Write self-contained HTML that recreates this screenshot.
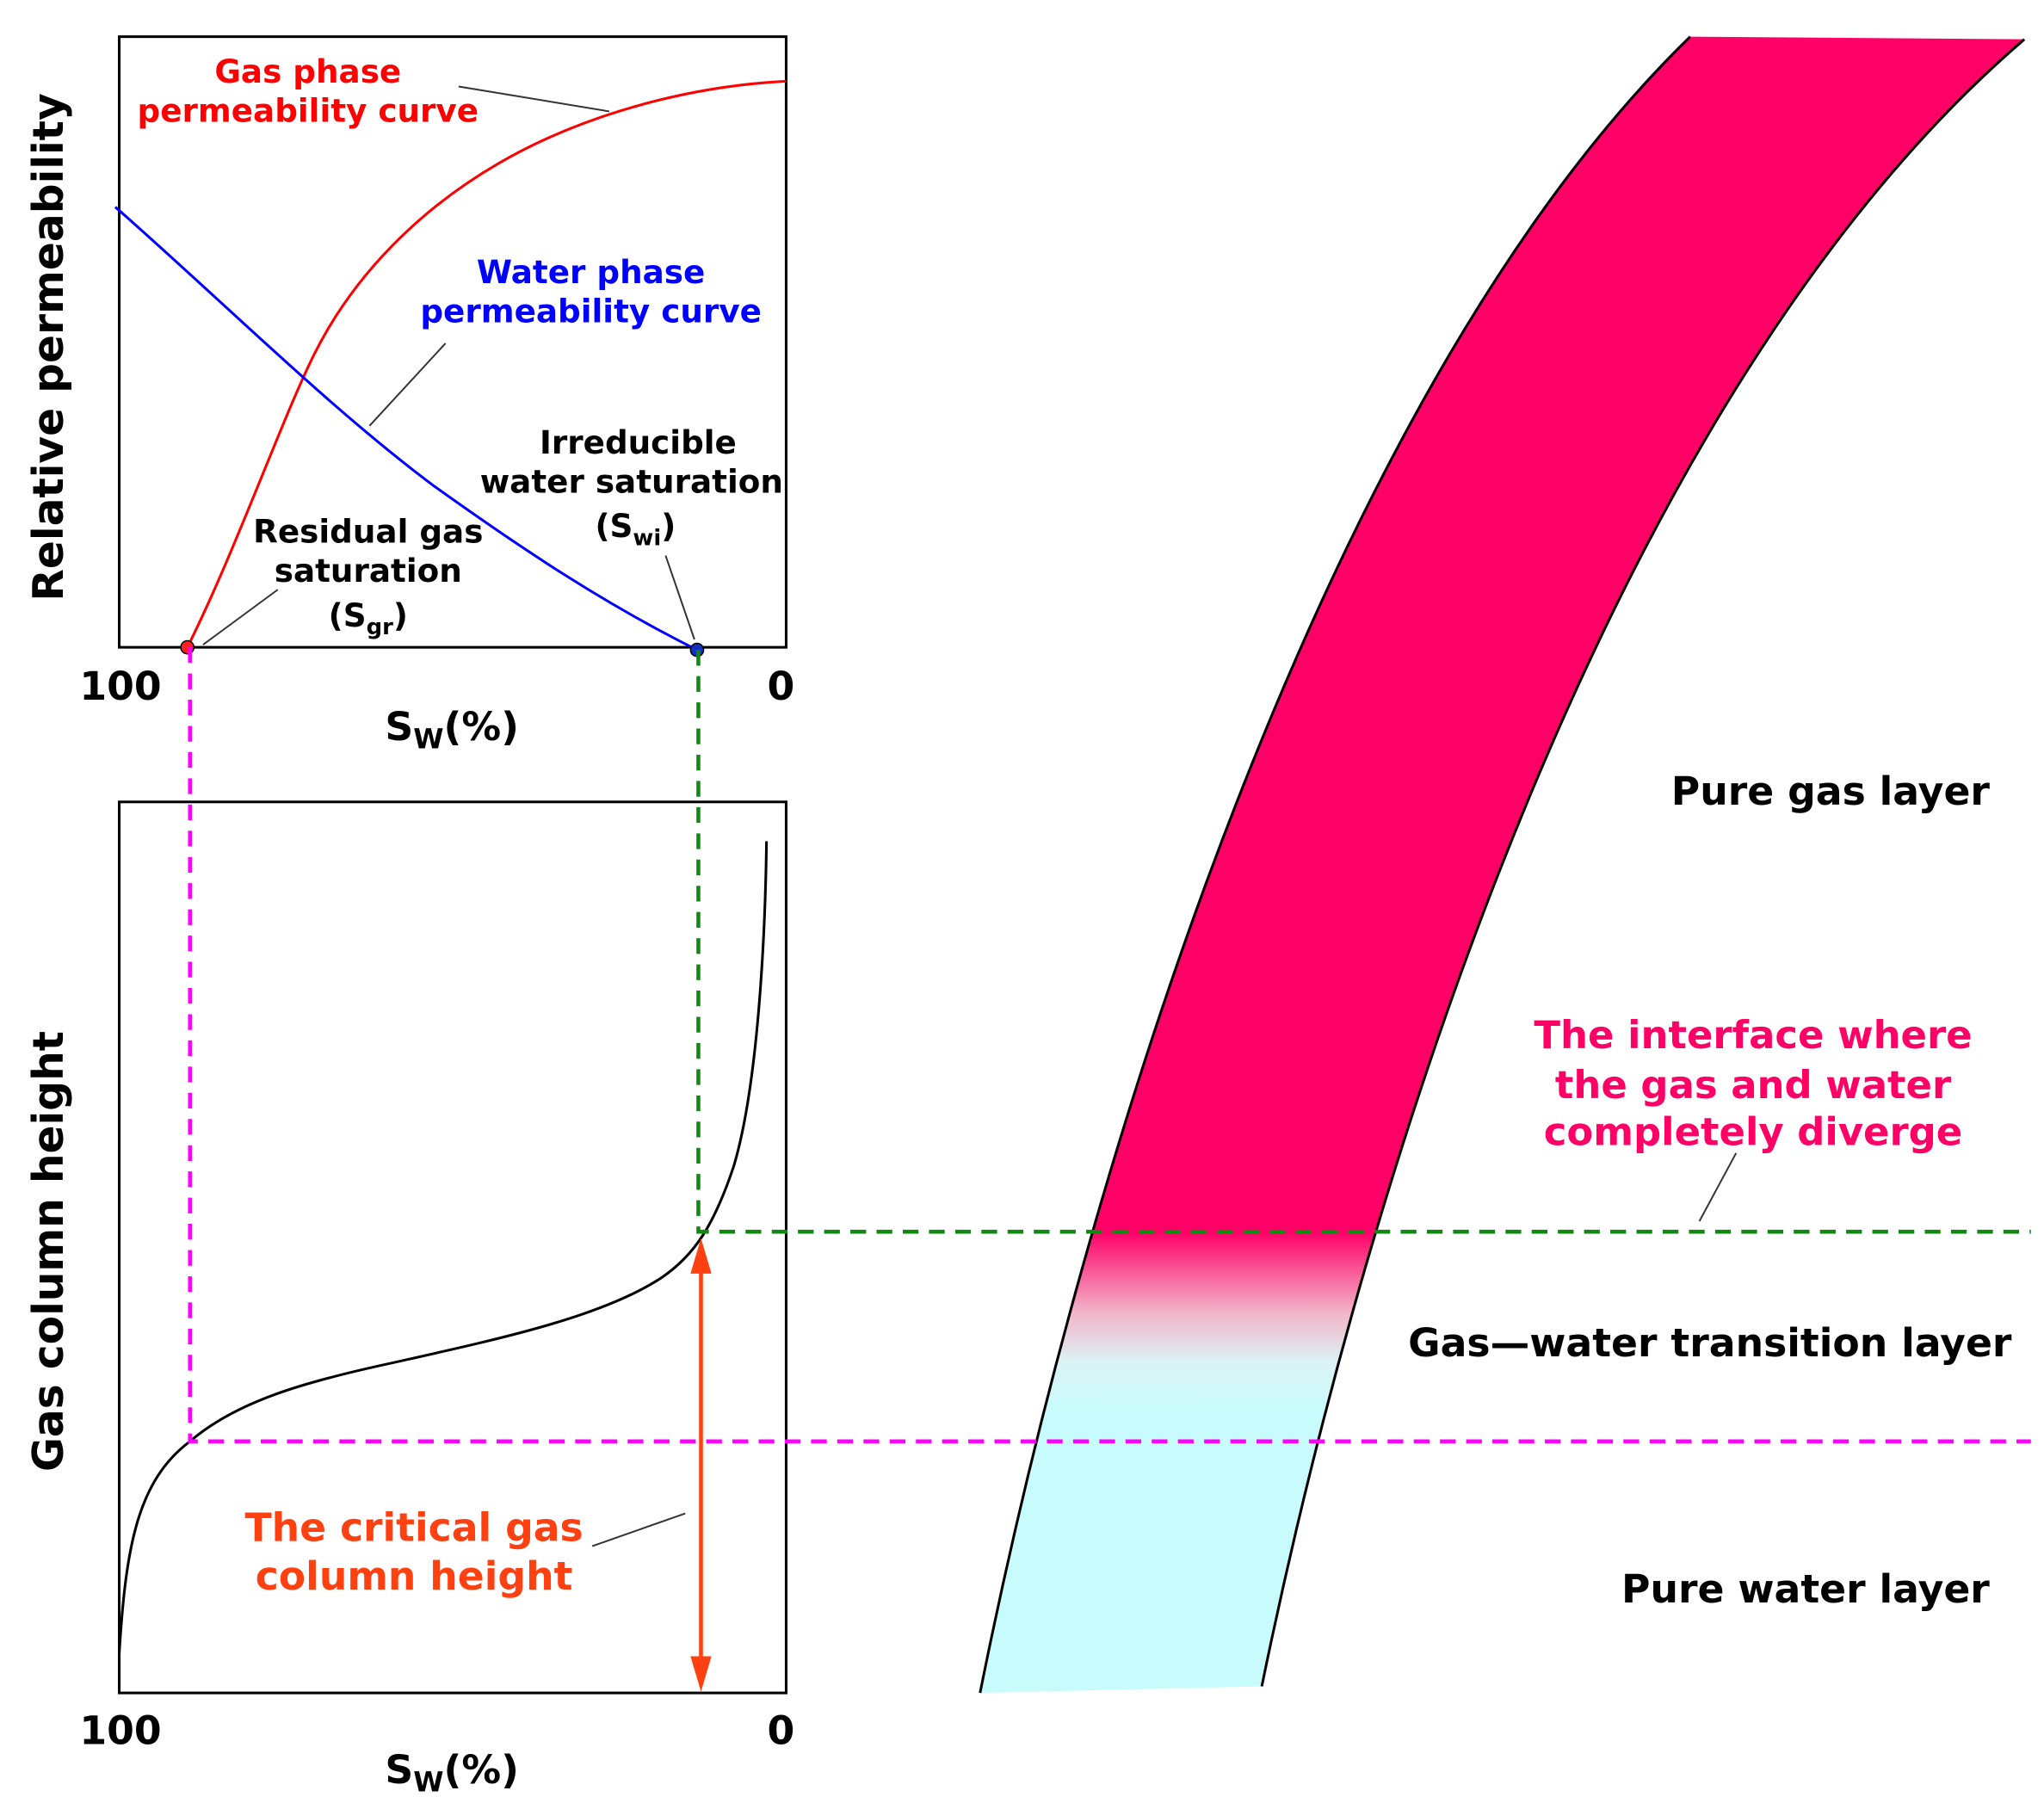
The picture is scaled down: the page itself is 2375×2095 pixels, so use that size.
<!DOCTYPE html>
<html><head><meta charset="utf-8"><style>
html,body{margin:0;padding:0;background:#fff;}
svg{display:block;}
text{font-family:"DejaVu Sans","Liberation Sans",sans-serif;font-weight:bold;}
</style></head><body>
<svg width="2375" height="2095" viewBox="0 0 1560 1376" preserveAspectRatio="none" xmlns="http://www.w3.org/2000/svg">
<defs>
<linearGradient id="bg" gradientUnits="userSpaceOnUse" x1="0" y1="28" x2="0" y2="1292">
<stop offset="0" stop-color="#ff0066"/>
<stop offset="0.7215" stop-color="#ff0066"/>
<stop offset="0.77" stop-color="#f2b4c8"/>
<stop offset="0.80" stop-color="#dcf2f4"/>
<stop offset="0.83" stop-color="#c8fcfc"/>
<stop offset="1" stop-color="#c8fcfc"/>
</linearGradient>
</defs>
<rect width="1560" height="1376" fill="#fff"/>

<!-- band -->
<path d="M748,1292 C828,892 1010,300 1290,28 L1545,30 C1230,300 1045,887 963,1287 Z" fill="url(#bg)"/>
<path d="M748,1292 C828,892 1010,300 1290,28" fill="none" stroke="#000" stroke-width="2"/>
<path d="M963,1287 C1045,887 1230,300 1545,30" fill="none" stroke="#000" stroke-width="2"/>

<!-- top plot -->
<rect x="91" y="28" width="509" height="466" fill="none" stroke="#000" stroke-width="2"/>
<path d="M143,494 C180,420 215,320 240,270 C270,210 320,160 380,125 C440,90 520,66 600,62" fill="none" stroke="#ff0000" stroke-width="2"/>
<path d="M88,158 C170,230 250,310 330,370 C400,420 460,460 532,496" fill="none" stroke="#0000ff" stroke-width="2"/>
<circle cx="143" cy="494" r="5" fill="#ff2020" stroke="#000" stroke-width="1"/>
<circle cx="532" cy="496" r="5" fill="#1030c0" stroke="#000" stroke-width="1"/>

<g font-size="24.5" text-anchor="middle">
<text x="235" y="63" fill="#ff0000">Gas phase</text>
<text x="235" y="93" fill="#ff0000">permeability curve</text>
<text x="451" y="216" fill="#0000ff">Water phase</text>
<text x="451" y="246" fill="#0000ff">permeability curve</text>
<text x="487" y="346">Irreducible</text>
<text x="482" y="376">water saturation</text>
<text x="485" y="410">(S<tspan font-size="17" dy="6">wi</tspan><tspan dy="-6">)</tspan></text>
<text x="281" y="414">Residual gas</text>
<text x="281" y="444">saturation</text>
<text x="281" y="478">(S<tspan font-size="17" dy="6">gr</tspan><tspan dy="-6">)</tspan></text>
</g>
<g stroke="#333" stroke-width="1.3">
<line x1="350" y1="66" x2="465" y2="85"/>
<line x1="340" y1="262" x2="282" y2="325"/>
<line x1="508" y1="424" x2="530" y2="488"/>
<line x1="212" y1="450" x2="155" y2="492"/>
<line x1="452" y1="1180" x2="523" y2="1155"/>
<line x1="1325" y1="880" x2="1297" y2="932"/>
</g>

<g font-size="30" text-anchor="middle">
<text x="92" y="534">100</text>
<text x="596" y="534">0</text>
<text x="345" y="565">S<tspan font-size="21" dy="6">W</tspan><tspan dy="-6">(%)</tspan></text>
<text x="92" y="1331">100</text>
<text x="596" y="1331">0</text>
<text x="345" y="1361">S<tspan font-size="21" dy="6">W</tspan><tspan dy="-6">(%)</tspan></text>
<text transform="translate(48,265) rotate(-90)" font-size="32">Relative permeability</text>
<text transform="translate(48,955) rotate(-90)" font-size="32">Gas column height</text>
</g>

<!-- bottom plot -->
<rect x="91" y="612" width="509" height="680" fill="none" stroke="#000" stroke-width="2"/>
<path d="M91,1262 C96,1180 105,1130 145,1100 C180,1070 230,1055 300,1040 C380,1022 460,1005 505,975 C530,958 545,935 560,890 C578,830 584,720 585,642" fill="none" stroke="#000" stroke-width="2"/>

<g stroke-width="3" stroke-dasharray="12,8" fill="none">
<path d="M145,494 V1100 H1550" stroke="#ff00ff"/>
<path d="M533,496 V940 H1550" stroke="#118811"/>
</g>

<!-- arrow -->
<line x1="535" y1="965" x2="535" y2="1270" stroke="#ff4010" stroke-width="3"/>
<polygon points="535,945 527,972 543,972" fill="#ff4010"/>
<polygon points="535,1291 527,1264 543,1264" fill="#ff4010"/>

<g font-size="30" text-anchor="middle">
<text x="316" y="1176" fill="#ff4010">The critical gas</text>
<text x="316" y="1213" fill="#ff4010">column height</text>
<text x="1397" y="614">Pure gas layer</text>
<text x="1338" y="800" fill="#ff0066" font-size="29.5">The interface where</text>
<text x="1338" y="838" fill="#ff0066" font-size="29.5">the gas and water</text>
<text x="1338" y="874" fill="#ff0066" font-size="29.5">completely diverge</text>
<text x="1305" y="1035">Gas—water transition layer</text>
<text x="1378" y="1223">Pure water layer</text>
</g>
</svg>
</body></html>
